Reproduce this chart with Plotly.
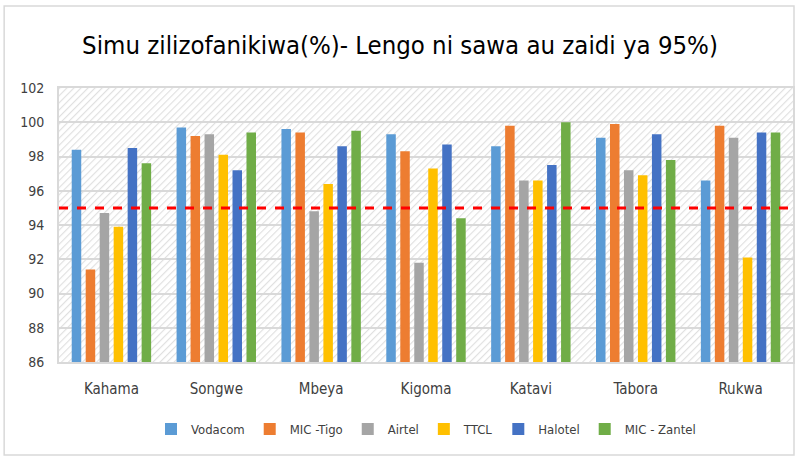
import base64
import plotly.graph_objects as go

# Data
mikoa = ["Kahama", "Songwe", "Mbeya", "Kigoma", "Katavi", "Tabora", "Rukwa"]
vodacom = [98.4, 99.7, 99.6, 99.3, 98.6, 99.1, 96.6]
tigo = [91.4, 99.2, 99.4, 98.3, 99.8, 99.9, 99.8]
airtel = [94.7, 99.3, 94.8, 91.8, 96.6, 97.2, 99.1]
ttcl = [93.9, 98.1, 96.4, 97.3, 96.6, 96.9, 92.1]
halotel = [98.5, 97.2, 98.6, 98.7, 97.5, 99.3, 99.4]
zantel = [97.6, 99.4, 99.5, 94.4, 100.0, 97.8, 99.4]
lengo = 95

series = [
    ("Vodacom", vodacom, "#5B9BD5"),
    ("MIC -Tigo", tigo, "#ED7D31"),
    ("Airtel", airtel, "#A5A5A5"),
    ("TTCL", ttcl, "#FFC000"),
    ("Halotel", halotel, "#4472C4"),
    ("MIC - Zantel", zantel, "#70AD47"),
]

# hatched background (like the excel pattern fill)
svg = """<svg xmlns="http://www.w3.org/2000/svg" width="737" height="274" viewBox="0 0 737 274" preserveAspectRatio="none">
<defs><pattern id="h" width="5" height="5" patternUnits="userSpaceOnUse" patternTransform="rotate(45)">
<rect width="5" height="5" fill="#ffffff"/><line x1="0" y1="0" x2="0" y2="5" stroke="#e0e0e0" stroke-width="2.3"/>
</pattern></defs><rect width="737" height="274" fill="url(#h)"/></svg>"""
bg_src = "data:image/svg+xml;base64," + base64.b64encode(svg.encode()).decode()

fnt = "DejaVu Sans Condensed, Liberation Sans Narrow, Roboto, sans-serif"

fig = go.Figure()
for name, vals, col in series:
    fig.add_trace(go.Bar(x=mikoa, y=vals, name=name, marker_color=col,
                         marker_line_width=0))

fig.update_layout(
    width=800, height=457,
    margin=dict(l=59, r=5, t=88, b=95),
    paper_bgcolor="white", plot_bgcolor="white",
    barmode="group", bargap=0.2, bargroupgap=0.32,
    font=dict(family=fnt, size=14, color="#404040"),
    title=dict(text="Simu zilizofanikiwa(%)- Lengo ni sawa au zaidi ya 95%)",
               x=0.5, xanchor="center", y=0.902, yanchor="middle",
               font=dict(size=25.5, color="#000000")),
    legend=dict(orientation="h", x=0.5, xanchor="center", y=-0.245, yanchor="middle",
                font=dict(size=13, color="#404040"), itemwidth=30,
                traceorder="normal"),
    showlegend=True,
)

fig.update_xaxes(showgrid=False, ticks="outside", ticklen=12, tickcolor="rgba(0,0,0,0)",
                 showline=True, linecolor="#d9d9d9", linewidth=2, mirror=True,
                 tickfont=dict(size=15))
fig.update_yaxes(range=[86, 102], dtick=2, showgrid=True, gridcolor="#d9d9d9", gridwidth=2,
                 ticks="outside", ticklen=10, tickcolor="rgba(0,0,0,0)",
                 showline=True, linecolor="#d9d9d9", linewidth=2, mirror=True,
                 zeroline=False, tickfont=dict(size=14))

# vertical separators between categories
for i in range(1, len(mikoa)):
    fig.add_shape(type="line", xref="x domain", yref="paper", layer="below",
                  x0=i / len(mikoa), x1=i / len(mikoa), y0=0, y1=1,
                  line=dict(color="#d9d9d9", width=2))

# target line 95%
fig.add_shape(type="line", xref="paper", yref="y", x0=0, x1=1, y0=lengo, y1=lengo,
              line=dict(color="#FF0000", width=3, dash="dash"))

fig.add_layout_image(dict(source=bg_src, xref="x domain", yref="y domain", x=0, y=1,
                          sizex=1, sizey=1, sizing="stretch", layer="below",
                          xanchor="left", yanchor="top"))

# chart border
fig.add_shape(type="rect", xref="paper", yref="paper",
              x0=-55 / 736, x1=1.0 + 1 / 736, y0=-93 / 274, y1=1 + 82 / 274,
              line=dict(color="#d9d9d9", width=1.5))

fig.write_html("out.html", config={"displayModeBar": False},
               post_script="document.body.style.margin='0';document.body.style.overflow='hidden';")
